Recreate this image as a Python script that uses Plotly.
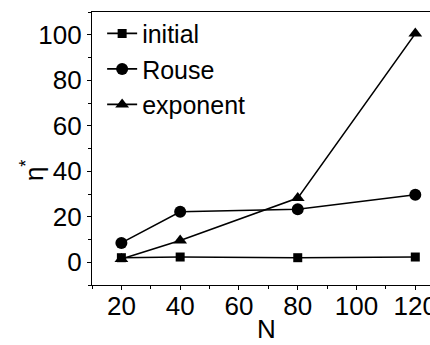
import plotly.graph_objects as go

N = [20, 40, 80, 120]
initial = [2.0, 2.3, 2.0, 2.3]
rouse = [8.5, 22.2, 23.3, 29.7]
exponent = [1.4, 9.6, 28.2, 100.5]

FONT = "Arial, Liberation Sans, sans-serif"

fig = go.Figure()
series = [("initial", initial, "square", 9), ("Rouse", rouse, "circle", 12), ("exponent", exponent, "triangle-up", 12)]
for name, ys, sym, sz in series:
    fig.add_trace(go.Scatter(
        x=N, y=ys, name=name, mode="lines+markers",
        line=dict(color="black", width=1.6),
        marker=dict(symbol=sym, size=sz, color="black"),
    ))

fig.update_layout(
    width=430, height=345,
    margin=dict(l=92, r=0, t=12, b=60, autoexpand=False),
    paper_bgcolor="white", plot_bgcolor="white",
    font=dict(family=FONT, size=26, color="black"),
    showlegend=True,
    legend=dict(x=0.03, y=1.005, xanchor="left", yanchor="top",
                bgcolor="rgba(0,0,0,0)", font=dict(size=25),
                tracegroupgap=0, itemwidth=30),
    xaxis=dict(range=[10, 125], showline=True, linecolor="black", linewidth=1.2,
               mirror=True, showgrid=False, zeroline=False, automargin=False,
               ticks="outside", ticklen=4, tickcolor="black", ticklabelstandoff=-6,
               tickvals=[20, 40, 60, 80, 100, 120], ticklabeloverflow="allow",
               minor=dict(ticks="outside", ticklen=3, dtick=10, tick0=0, tickcolor="black", showgrid=False)),
    yaxis=dict(range=[-10, 110], showline=True, linecolor="black", linewidth=1.2,
               mirror=True, showgrid=False, zeroline=False, automargin=False,
               ticks="outside", ticklen=4, tickcolor="black",
               tickvals=[0, 20, 40, 60, 80, 100],
               minor=dict(ticks="outside", ticklen=3, dtick=10, tick0=0, tickcolor="black", showgrid=False)),
)

fig.add_annotation(text="N", xref="paper", yref="paper",
                   x=0.515, y=-0.219, yanchor="bottom", showarrow=False, borderpad=0,
                   font=dict(size=26, family=FONT))
fig.add_annotation(text="η<sup>*</sup>", xref="paper", yref="paper",
                   x=-0.23, y=0.42, showarrow=False, textangle=-90,
                   font=dict(size=26, family=FONT))

fig.write_html("out.html")
